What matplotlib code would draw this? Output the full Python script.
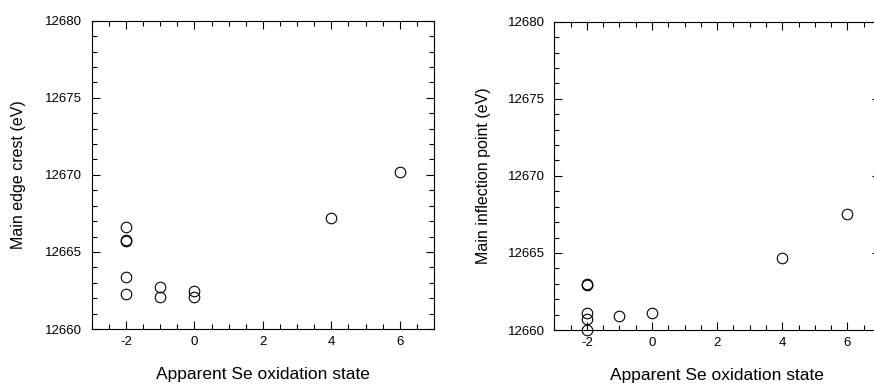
import matplotlib.pyplot as plt
from matplotlib.ticker import MultipleLocator

plt.rcParams['font.family'] = ['Liberation Sans', 'DejaVu Sans']
plt.rcParams['axes.unicode_minus'] = False

# left panel: main edge crest
ox_crest = [-2, -2, -2, -2, -2, -1, -1, 0, 0, 4, 6]
e_crest = [12666.6, 12665.8, 12665.7, 12663.4, 12662.3,
           12662.75, 12662.1, 12662.45, 12662.1, 12667.2, 12670.2]

# right panel: main inflection point
ox_infl = [-2, -2, -2, -2, -2, -1, 0, 4, 6]
e_infl = [12663.0, 12662.9, 12661.1, 12660.7, 12660.0,
          12660.9, 12661.1, 12664.7, 12667.5]

xlabel = 'Apparent Se oxidation state'
ylabels = ['Main edge crest (eV)', 'Main inflection point (eV)']


def style(ax, ylab, ypad):
    ax.set_xlim(-3, 7)
    ax.set_ylim(12660, 12680)
    ax.xaxis.set_major_locator(MultipleLocator(2))
    ax.xaxis.set_minor_locator(MultipleLocator(0.5))
    ax.yaxis.set_major_locator(MultipleLocator(5))
    ax.yaxis.set_minor_locator(MultipleLocator(1))
    ax.tick_params(which='both', direction='in', top=True, right=True, width=0.8)
    ax.tick_params(which='major', length=6)
    ax.tick_params(which='minor', length=3.5)
    ax.tick_params(axis='y', labelsize=9.5, pad=7)
    ax.tick_params(axis='x', labelsize=9.5, pad=5)
    for s in ax.spines.values():
        s.set_linewidth(0.8)
    ax.set_xlabel(xlabel, fontsize=12.5, labelpad=13.5)
    ax.set_ylabel(ylab, fontsize=11.5, labelpad=ypad)


fig = plt.figure(figsize=(8.74, 3.84), dpi=100)
ax1 = fig.add_axes([0.1049, 0.1432, 0.3917, 0.8029])
ax2 = fig.add_axes([0.6342, 0.1406, 0.3727, 0.8029])

ax1.plot(ox_crest, e_crest, 'o', mfc='none', mec='black', ms=7.6, mew=0.8, clip_on=False)
ax2.plot(ox_infl, e_infl, 'o', mfc='none', mec='black', ms=7.6, mew=0.8, clip_on=False)

style(ax1, ylabels[0], 14)
style(ax2, ylabels[1], 12)

fig.savefig('out.png', dpi=100)
